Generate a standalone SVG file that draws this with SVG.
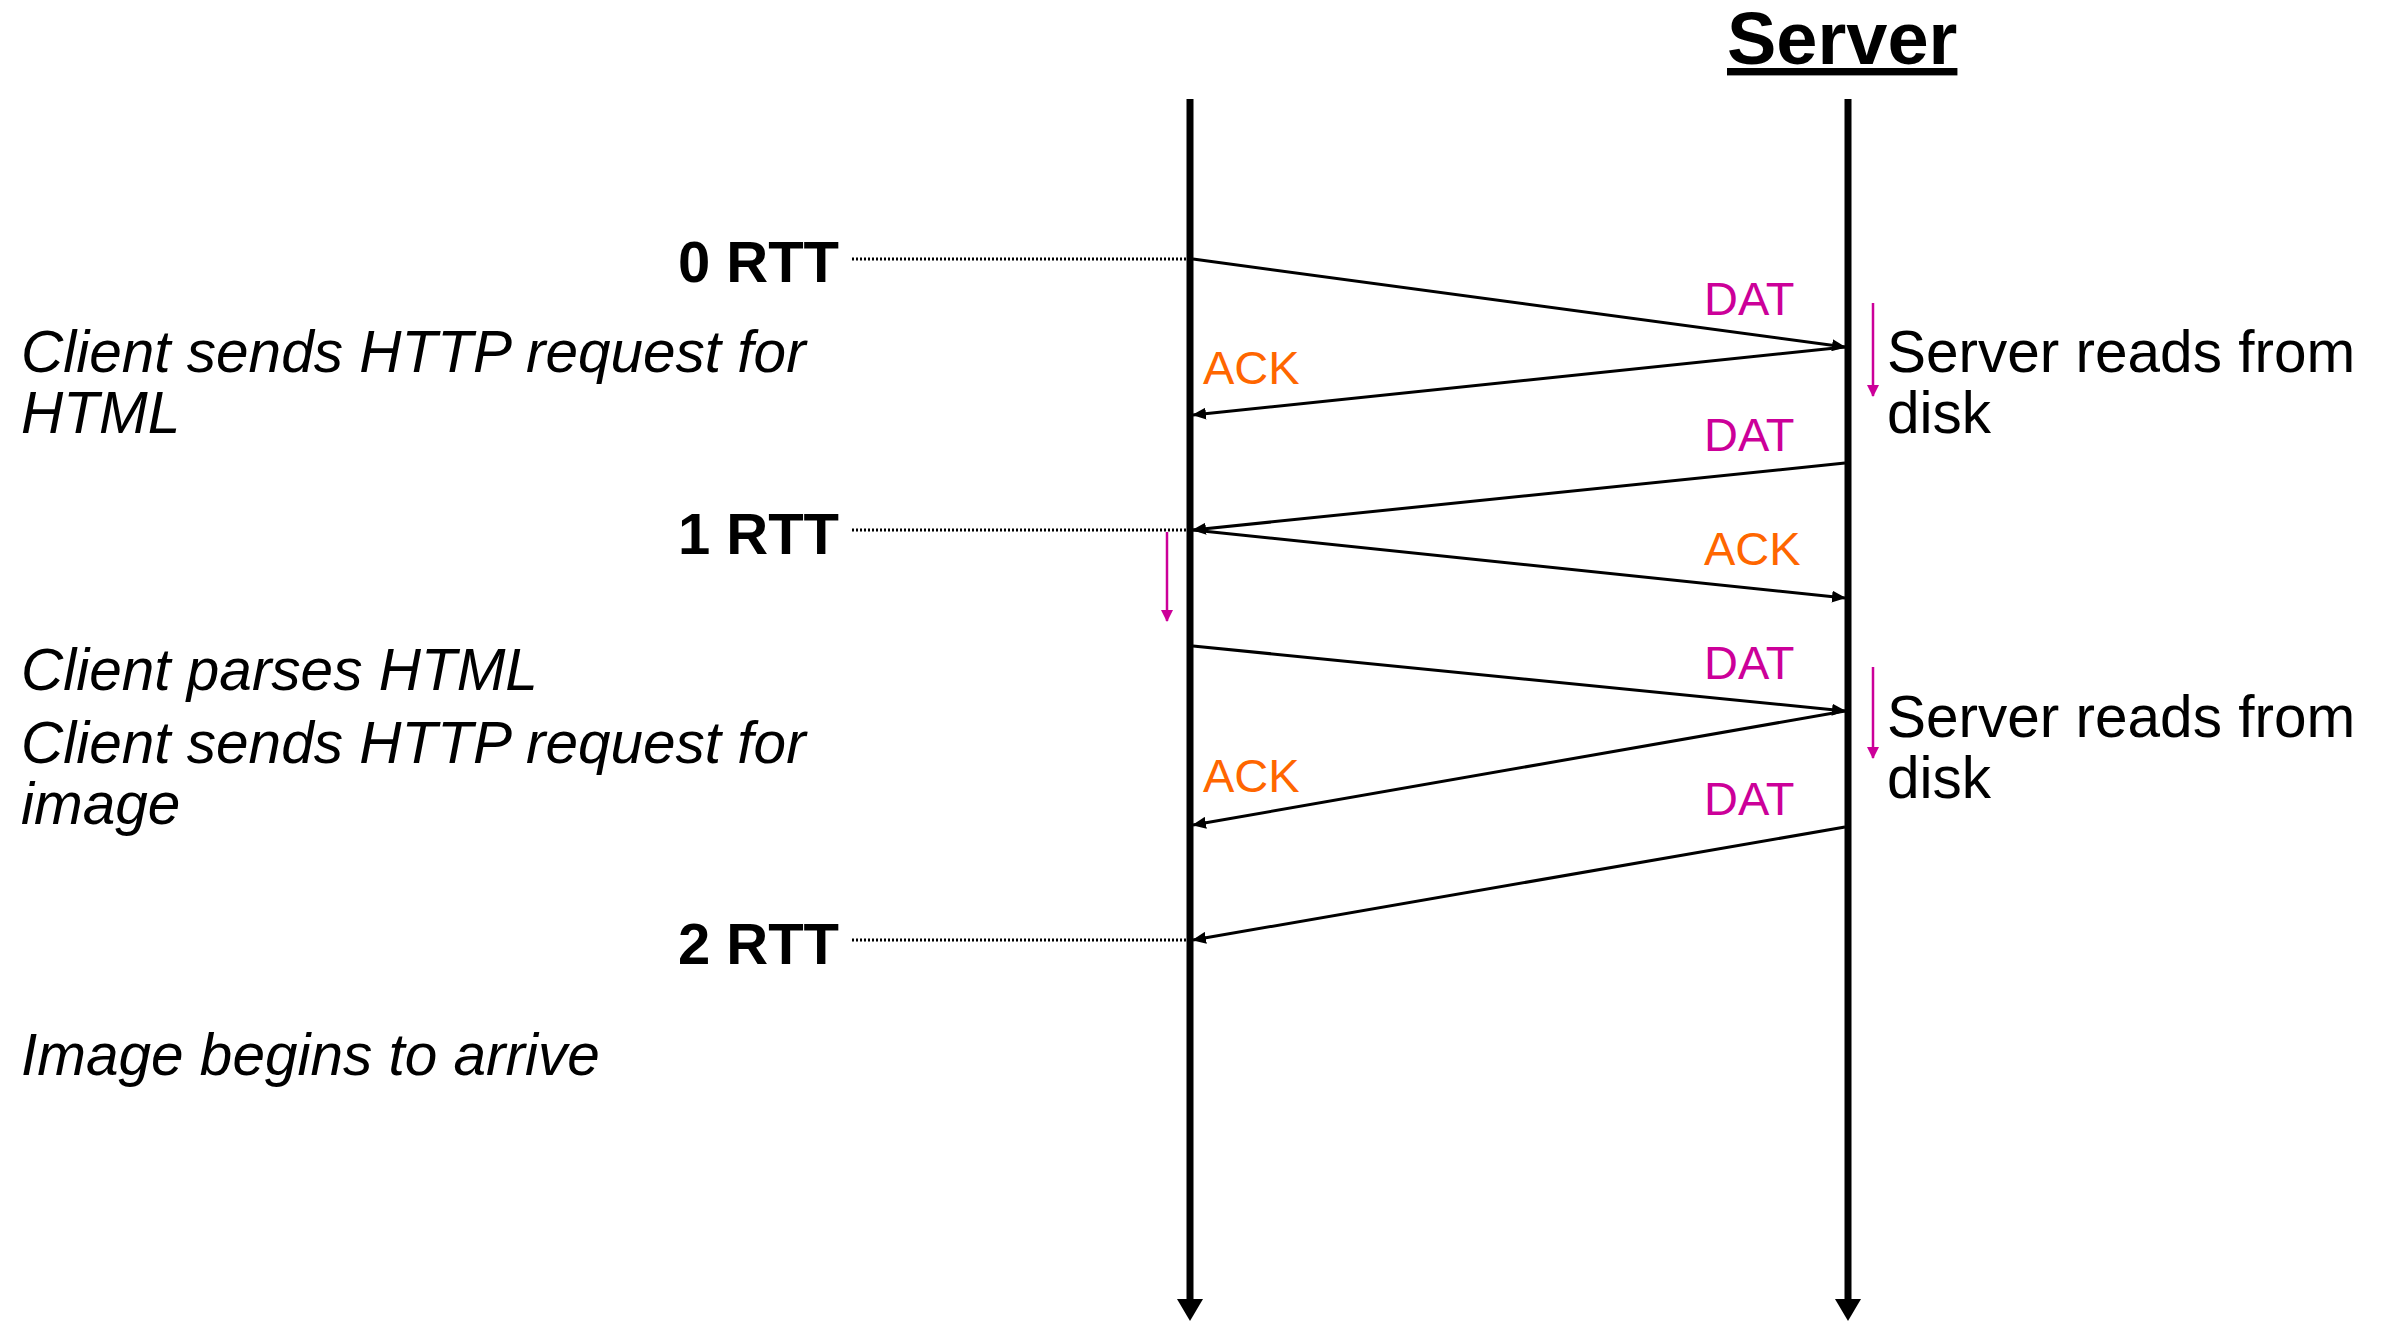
<svg xmlns="http://www.w3.org/2000/svg" width="2388" height="1321" viewBox="0 0 2388 1321">
  <style>
    .timeline { stroke: #000; stroke-width: 7; fill: none; }
    .msg { stroke: #000; stroke-width: 3; fill: none; marker-end: url(#head); }
    .tick { stroke: #000; stroke-width: 3; stroke-dasharray: 2 2; fill: none; }
    .proc { stroke: #CC0099; stroke-width: 2.5; fill: none; marker-end: url(#phead); }
    .rtt { font-family: "Liberation Sans", Arial, sans-serif; font-weight: bold; font-size: 58px; fill: #000; text-anchor: end; }
    .note { font-family: "Liberation Sans", Arial, sans-serif; font-style: italic; font-size: 58.5px; fill: #000; }
    .srv { font-family: "Liberation Sans", Arial, sans-serif; font-size: 58.5px; fill: #000; }
    .dat { font-family: "Liberation Sans", Arial, sans-serif; font-size: 47px; fill: #CC0099; }
    .ack { font-family: "Liberation Sans", Arial, sans-serif; font-size: 47px; fill: #FF6600; }
    .title { font-family: "Liberation Sans", Arial, sans-serif; font-weight: bold; font-size: 74px; fill: #000; text-decoration: underline; }
  </style>
  <defs>
    <marker id="head" markerUnits="userSpaceOnUse" markerWidth="14" markerHeight="12" refX="13" refY="6" orient="auto">
      <path d="M0,0 L14,6 L0,12 Z" fill="#000"/>
    </marker>
    <marker id="phead" markerUnits="userSpaceOnUse" markerWidth="12" markerHeight="14" refX="11" refY="6" orient="auto">
      <path d="M0,0 L12,6 L0,12 Z" fill="#CC0099"/>
    </marker>
    <marker id="thead" markerUnits="userSpaceOnUse" markerWidth="22" markerHeight="26" refX="0" refY="13" orient="auto">
      <path d="M0,0 L22,13 L0,26 Z" fill="#000"/>
    </marker>
  </defs>
  <rect width="2388" height="1321" fill="#fff"/>

  <!-- title -->
  <g id="server-title">
    <text class="title" x="1727" y="64">Server</text>
  </g>

  <!-- timelines -->
  <g id="client-timeline">
    <line class="timeline" x1="1190" y1="99" x2="1190" y2="1299" marker-end="url(#thead)"/>
  </g>
  <g id="server-timeline">
    <line class="timeline" x1="1848" y1="99" x2="1848" y2="1299" marker-end="url(#thead)"/>
  </g>

  <!-- RTT markers -->
  <g id="rtt0">
    <text class="rtt" x="839" y="282">0 RTT</text>
  </g>
  <g id="rtt1">
    <text class="rtt" x="839" y="554">1 RTT</text>
  </g>
  <g id="rtt2">
    <text class="rtt" x="839" y="964">2 RTT</text>
  </g>

  <!-- client notes -->
  <g id="note-request-html">
    <text class="note" x="21" y="372">Client sends HTTP request for</text>
    <text class="note" x="21" y="433">HTML</text>
  </g>
  <g id="note-parse">
    <text class="note" x="21" y="690">Client parses HTML</text>
  </g>
  <g id="note-request-image">
    <text class="note" x="21" y="763">Client sends HTTP request for</text>
    <text class="note" x="21" y="824">image</text>
  </g>
  <g id="note-arrive">
    <text class="note" x="21" y="1075">Image begins to arrive</text>
  </g>

  <!-- server notes -->
  <g id="server-read-1">
    <text class="srv" x="1887" y="372">Server reads from</text>
    <text class="srv" x="1887" y="433">disk</text>
  </g>
  <g id="server-read-2">
    <text class="srv" x="1887" y="737">Server reads from</text>
    <text class="srv" x="1887" y="798">disk</text>
  </g>

  <!-- packet labels -->
  <g id="labels">
    <text class="dat" x="1704" y="315">DAT</text>
    <text class="ack" x="1203" y="384">ACK</text>
    <text class="dat" x="1704" y="451">DAT</text>
    <text class="ack" x="1704" y="565">ACK</text>
    <text class="dat" x="1704" y="679">DAT</text>
    <text class="ack" x="1203" y="792">ACK</text>
    <text class="dat" x="1704" y="815">DAT</text>
  </g>

  <!-- connectors -->
  <g id="connectors">
    <line class="tick" x1="852" y1="259" x2="1187" y2="259"/>
    <line class="tick" x1="852" y1="530" x2="1187" y2="530"/>
    <line class="tick" x1="852" y1="940" x2="1187" y2="940"/>

    <line class="msg" x1="1193" y1="259" x2="1845" y2="347"/>
    <line class="msg" x1="1845" y1="347" x2="1193" y2="415"/>
    <line class="msg" x1="1845" y1="463" x2="1193" y2="530"/>
    <line class="msg" x1="1193" y1="530" x2="1845" y2="598"/>
    <line class="msg" x1="1193" y1="646" x2="1845" y2="711"/>
    <line class="msg" x1="1845" y1="711" x2="1193" y2="825"/>
    <line class="msg" x1="1845" y1="827" x2="1193" y2="940"/>

    <line class="proc" x1="1873" y1="303" x2="1873" y2="396"/>
    <line class="proc" x1="1873" y1="667" x2="1873" y2="758"/>
    <line class="proc" x1="1167" y1="532" x2="1167" y2="621"/>
  </g>
</svg>
